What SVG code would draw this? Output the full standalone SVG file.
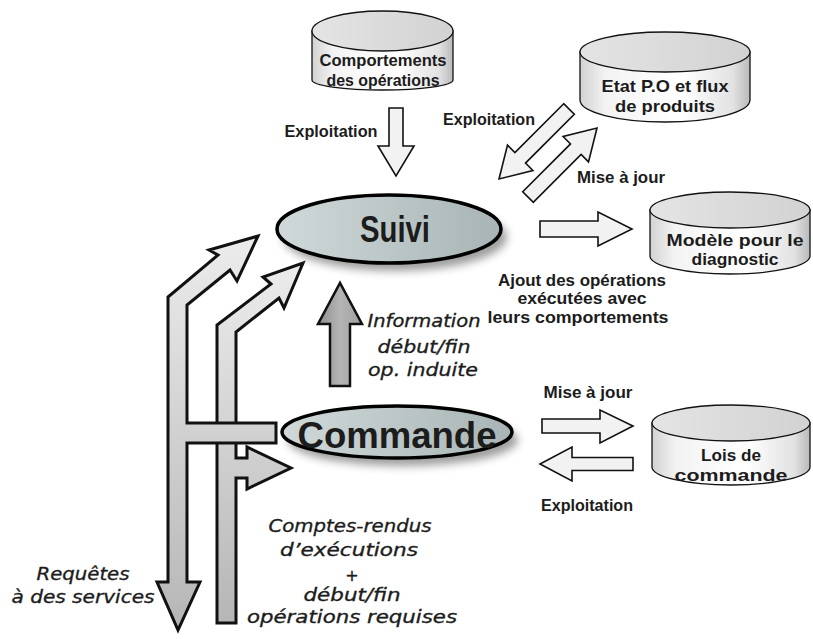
<svg xmlns="http://www.w3.org/2000/svg" width="813" height="639" viewBox="0 0 813 639">
<defs>
<style>
.cyl-body{fill:url(#gBody);stroke:#111;stroke-width:1.3}
.cyl-top{fill:url(#gTop);stroke:#111;stroke-width:1.3}
.ctext{font-family:"Liberation Sans",Arial,sans-serif;font-weight:bold;font-size:17px;fill:#1c1c1c;text-anchor:middle}
.etext{font-family:"Liberation Sans",Arial,sans-serif;font-weight:bold;font-size:36px;fill:#1c1c1c;text-anchor:middle}
.lbl{font-family:"Liberation Sans",Arial,sans-serif;font-weight:bold;font-size:16px;fill:#1c1c1c;text-anchor:middle}
.itl{font-family:"DejaVu Sans","Liberation Sans",sans-serif;font-style:italic;font-size:18px;fill:#1c1c1c;stroke:#1c1c1c;stroke-width:0.35;text-anchor:middle}
.small{fill:#f2f2f2;stroke:#111;stroke-width:1.6;stroke-linejoin:miter}
.big{fill:url(#gBig);stroke:#111;stroke-width:3;stroke-linejoin:miter}
.ell{fill:url(#gEll);stroke:#000;stroke-width:3.5}
.shadow{fill:#6a6a6a;opacity:0.65;filter:url(#blur)}
</style>
<linearGradient id="gBody" x1="0" y1="0" x2="1" y2="0">
<stop offset="0" stop-color="#d2d2d2"/>
<stop offset="0.15" stop-color="#f3f3f3"/>
<stop offset="0.6" stop-color="#ffffff"/>
<stop offset="0.9" stop-color="#e2e2e2"/>
<stop offset="1" stop-color="#b9b9b9"/>
</linearGradient>
<linearGradient id="gTop" x1="0" y1="0" x2="1" y2="0">
<stop offset="0" stop-color="#e4e4e4"/>
<stop offset="1" stop-color="#d2d2d2"/>
</linearGradient>
<linearGradient id="gEll" x1="0" y1="0" x2="1" y2="0">
<stop offset="0" stop-color="#d0d9d9"/>
<stop offset="1" stop-color="#a8b4b5"/>
</linearGradient>
<linearGradient id="gBig" x1="0" y1="0" x2="0" y2="1">
<stop offset="0" stop-color="#ececec"/>
<stop offset="1" stop-color="#b6b6b6"/>
</linearGradient>
<linearGradient id="gGray" x1="0" y1="0" x2="1" y2="0">
<stop offset="0" stop-color="#8e8e8e"/>
<stop offset="0.5" stop-color="#b4b4b4"/>
<stop offset="1" stop-color="#a0a0a0"/>
</linearGradient>
<filter id="blur" x="-20%" y="-40%" width="140%" height="180%">
<feGaussianBlur stdDeviation="4"/>
</filter>
</defs>
<rect width="813" height="639" fill="#ffffff"/>

<g id="connectors">
<polygon class="big" points="217,623 217,325 271,284 263,277 303,263 284,308 279,298 236,332 236,458 247,458 247,447 291,468 247,489 247,478 236,478 236,623"/>
<polygon class="big" points="178,630 200,582 187,582 187,443 276,443 276,423 187,423 187,305 230,270 237,281 258,236 209,250 218,255 168,297 168,582 157,582"/>
<polygon points="330,386 330,324 318,324 340,283 362,324 350,324 350,386" fill="url(#gGray)" stroke="#111" stroke-width="2.5"/>
<polygon class="small" points="389,108 403,108 403,146 414,146 396,176 378,146 389,146"/>
<polygon class="small" points="563.7,103.7 514.9,152.5 507.5,145.1 499,179 532.9,170.5 525.5,163.1 574.3,114.3"/>
<polygon class="small" points="522.7,191.7 570.5,143.9 563.1,136.5 597,128 588.5,161.9 581.1,154.5 533.3,202.3"/>
<polygon class="small" points="540,221 598,221 598,212 632,229 598,246 598,237 540,237"/>
<polygon class="small" points="542,419 600,419 600,410 633,426 600,443 600,433 542,433"/>
<polygon class="small" points="633,457.5 572,457.5 572,447 540,464 572,481 572,470.5 633,470.5"/>
</g>

<g id="labels">
<text class="lbl" x="331" y="137" textLength="93" lengthAdjust="spacingAndGlyphs">Exploitation</text>
<text class="lbl" x="489" y="125" textLength="92" lengthAdjust="spacingAndGlyphs">Exploitation</text>
<text class="lbl" x="621" y="183" textLength="88" lengthAdjust="spacingAndGlyphs">Mise à jour</text>
<text class="lbl" x="582" y="286" textLength="168" lengthAdjust="spacingAndGlyphs">Ajout des opérations</text>
<text class="lbl" x="582" y="304" textLength="129" lengthAdjust="spacingAndGlyphs">exécutées avec</text>
<text class="lbl" x="578" y="323" textLength="181" lengthAdjust="spacingAndGlyphs">leurs comportements</text>
<text class="lbl" x="588" y="398" textLength="89" lengthAdjust="spacingAndGlyphs">Mise à jour</text>
<text class="lbl" x="587" y="511" textLength="92" lengthAdjust="spacingAndGlyphs">Exploitation</text>
<text class="itl" x="424" y="327" textLength="113" lengthAdjust="spacingAndGlyphs">Information</text>
<text class="itl" x="424" y="353" textLength="93" lengthAdjust="spacingAndGlyphs">début/fin</text>
<text class="itl" x="423" y="376" textLength="110" lengthAdjust="spacingAndGlyphs">op. induite</text>
<text class="itl" x="350" y="532" textLength="163" lengthAdjust="spacingAndGlyphs">Comptes-rendus</text>
<text class="itl" x="349" y="556" textLength="138" lengthAdjust="spacingAndGlyphs">d’exécutions</text>
<text class="itl" x="352" y="581" style="font-size:16px">+</text>
<text class="itl" x="352" y="601" textLength="97" lengthAdjust="spacingAndGlyphs">début/fin</text>
<text class="itl" x="352" y="623" textLength="210" lengthAdjust="spacingAndGlyphs">opérations requises</text>
<text class="itl" x="83" y="580" textLength="93" lengthAdjust="spacingAndGlyphs">Requêtes</text>
<text class="itl" x="83" y="603" textLength="143" lengthAdjust="spacingAndGlyphs">à des services</text>
</g>

<g id="node-comportements">
<path class="cyl-body" d="M312,31 L312,80 A70.5,10 0 0 0 453,80 L453,31 Z"/>
<ellipse class="cyl-top" cx="382.5" cy="31" rx="70.5" ry="20"/>
<text class="ctext" x="383" y="66" textLength="127" lengthAdjust="spacingAndGlyphs">Comportements</text>
<text class="ctext" x="383" y="86" textLength="113" lengthAdjust="spacingAndGlyphs">des opérations</text>
</g>

<g id="node-etat">
<path class="cyl-body" d="M580,52 L580,100 A85,22 0 0 0 750,100 L750,52 Z"/>
<ellipse class="cyl-top" cx="665" cy="52" rx="85" ry="20"/>
<text class="ctext" x="665" y="92" textLength="127" lengthAdjust="spacingAndGlyphs">Etat P.O et flux</text>
<text class="ctext" x="665" y="112" textLength="100" lengthAdjust="spacingAndGlyphs">de produits</text>
</g>

<g id="node-modele">
<path class="cyl-body" d="M650,210 L650,256 A80,18 0 0 0 810,256 L810,210 Z"/>
<ellipse class="cyl-top" cx="730" cy="210" rx="80" ry="18"/>
<text class="ctext" x="735" y="246" textLength="137" lengthAdjust="spacingAndGlyphs">Modèle pour le</text>
<text class="ctext" x="735" y="265" textLength="87" lengthAdjust="spacingAndGlyphs">diagnostic</text>
</g>

<g id="node-lois">
<path class="cyl-body" d="M652,423 L652,467 A79,18 0 0 0 810,467 L810,423 Z"/>
<ellipse class="cyl-top" cx="731" cy="423" rx="79" ry="18"/>
<text class="ctext" x="731" y="461" textLength="60" lengthAdjust="spacingAndGlyphs">Lois de</text>
<text class="ctext" x="731" y="481" textLength="113" lengthAdjust="spacingAndGlyphs">commande</text>
</g>

<g id="node-suivi">
<ellipse class="shadow" cx="395" cy="237" rx="112" ry="34"/>
<ellipse class="ell" cx="389" cy="229" rx="112" ry="34"/>
<text class="etext" x="395" y="242" textLength="70" lengthAdjust="spacingAndGlyphs">Suivi</text>
</g>

<g id="node-commande">
<ellipse class="shadow" cx="403" cy="440" rx="115" ry="26"/>
<ellipse class="ell" cx="397" cy="432" rx="115" ry="26"/>
<text class="etext" x="397" y="448" textLength="199" lengthAdjust="spacingAndGlyphs">Commande</text>
</g>
</svg>
